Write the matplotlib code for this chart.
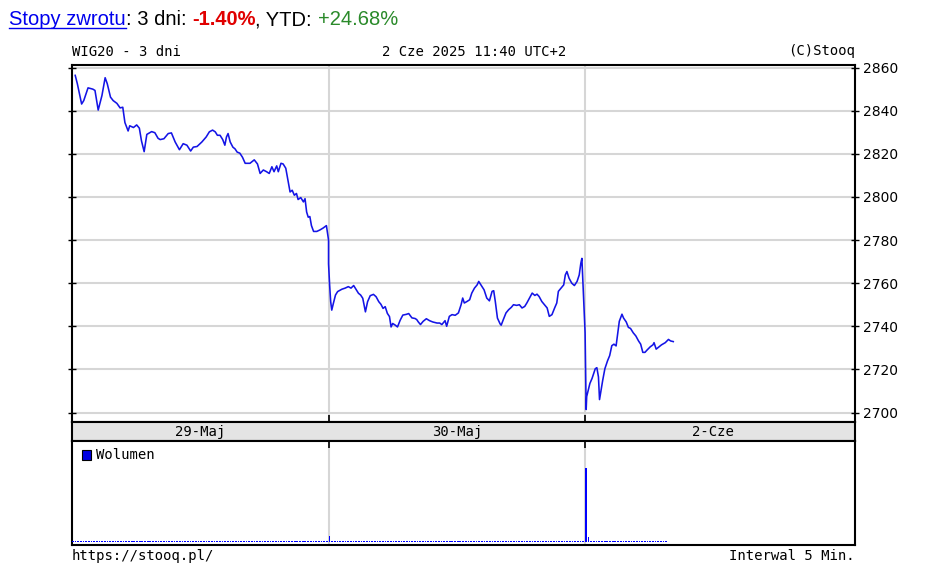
import matplotlib.pyplot as plt
from matplotlib.patches import Rectangle
from matplotlib.lines import Line2D
import numpy as np

# WIG20, 5-minute closes, minutes after 9:00 for each session
day1_min = [6, 10, 18, 22, 30, 39, 43, 49, 56, 62, 66, 72, 77, 84, 90, 95, 99, 105, 108, 115,
            121, 126, 130, 135, 140, 149, 155, 161, 165, 172, 180, 186, 193, 201, 208, 215, 222, 227, 234, 243,
            251, 257, 263, 268, 272, 277, 282, 286, 289, 292, 296, 301, 305, 309, 314, 319, 324, 333, 341, 347,
            352, 358, 364, 369, 374, 378, 383, 386, 391, 395, 400, 404, 408, 412, 416, 420, 423, 428, 433, 436,
            439, 442, 445, 448, 452, 458, 464, 470, 476, 480]
day1_val = [2856.4, 2852.5, 2843.1, 2844.7, 2850.6, 2850.0, 2849.4, 2840.3, 2847.0, 2855.3,
            2852.5, 2846.3, 2844.7, 2843.4, 2841.3, 2841.6, 2834.5, 2830.6, 2833.0, 2832.2,
            2833.4, 2831.9, 2826.0, 2821.0, 2829.0, 2830.3, 2829.8, 2827.2, 2826.6, 2827.0,
            2829.4, 2829.7, 2825.5, 2821.9, 2824.7, 2824.0, 2821.3, 2823.1, 2823.4, 2825.5,
            2827.8, 2830.2, 2831.0, 2830.2, 2828.6, 2828.6, 2826.6, 2824.0, 2827.8, 2829.4,
            2825.5, 2823.1, 2822.3, 2820.8, 2820.3, 2818.4, 2815.6, 2815.6, 2817.2, 2815.3,
            2810.9, 2812.5, 2811.7, 2810.9, 2814.0, 2811.7, 2814.4, 2811.7, 2815.6, 2815.3,
            2813.3, 2807.8, 2802.3, 2803.1, 2800.8, 2801.6, 2798.8, 2799.7, 2797.7, 2799.2,
            2793.0, 2790.6, 2790.9, 2786.7, 2784.0, 2784.0, 2784.7, 2785.6, 2786.7, 2780.0]

day2_min = [0, 2, 4, 6, 9, 13, 17, 25, 31, 37, 42, 47, 52, 56, 60, 64, 69, 73, 78, 84,
            89, 94, 98, 102, 106, 110, 114, 117, 120, 125, 129, 134, 139, 145, 150, 156, 162, 165, 168, 172,
            177, 183, 189, 195, 203, 208, 212, 218, 221, 226, 231, 237, 243, 248, 251, 254, 259, 264, 268, 273,
            278, 281, 287, 291, 296, 301, 306, 309, 312, 316, 321, 323, 327, 332, 337, 342, 346, 352, 357, 362,
            367, 371, 376, 381, 386, 390, 394, 399, 404, 409, 413, 418, 423, 427, 430, 435, 440, 443, 446, 450,
            455, 460, 465, 469, 472, 474]
day2_val = [2769.0, 2759.2, 2751.4, 2747.5, 2750.6, 2754.5, 2756.1, 2757.2, 2757.7, 2758.4,
            2757.7, 2758.9, 2756.9, 2755.3, 2754.5, 2753.0, 2746.7, 2751.4, 2754.2, 2754.8,
            2753.7, 2751.4, 2750.2, 2748.3, 2749.1, 2746.0, 2744.5, 2739.7, 2741.3, 2740.5,
            2739.7, 2742.8, 2745.2, 2745.5, 2745.9, 2743.9, 2743.6, 2743.1, 2742.0, 2740.8,
            2742.3, 2743.5, 2742.6, 2742.0, 2741.5, 2741.5, 2740.8, 2742.6, 2740.0, 2744.6,
            2745.4, 2745.1, 2746.2, 2750.0, 2753.1, 2750.8, 2751.5, 2752.3, 2755.4, 2757.7,
            2759.2, 2760.8, 2758.5, 2756.9, 2753.1, 2751.8, 2756.2, 2756.5, 2751.5, 2743.8,
            2741.1, 2740.5, 2743.1, 2746.2, 2747.7, 2748.8, 2750.0, 2749.7, 2750.0, 2748.5,
            2749.2, 2750.8, 2753.1, 2755.4, 2754.3, 2754.9, 2753.8, 2751.5, 2750.0, 2748.5,
            2744.6, 2745.4, 2748.5, 2750.8, 2756.2, 2757.7, 2759.2, 2763.8, 2765.4, 2762.3,
            2760.0, 2758.9, 2760.8, 2763.8, 2769.2, 2771.5]

day3_min = [0, 2, 3, 6, 9, 13, 16, 19, 22, 25, 27, 29, 33, 37, 42, 46, 50, 54, 58, 60,
            64, 69, 72, 77, 81, 85, 90, 95, 100, 104, 108, 112, 116, 122, 127, 129, 133, 137, 143, 150,
            156, 160, 165]
day3_val = [2737.0, 2701.4, 2707.4, 2710.5, 2713.5, 2715.8, 2718.0, 2720.3, 2720.8, 2716.5,
            2706.0, 2709.0, 2715.0, 2720.3, 2724.0, 2726.4, 2731.0, 2731.7, 2730.9, 2734.7,
            2742.3, 2745.6, 2743.8, 2742.0, 2739.5, 2739.0, 2737.0, 2735.5, 2733.2, 2731.7,
            2727.9, 2727.9, 2729.0, 2730.5, 2731.4, 2732.4, 2729.4, 2730.2, 2731.4, 2732.4,
            2733.9, 2733.2, 2732.9]

# volume per 5-minute bar (relative units)
vol_day1 = [1, 1, 1, 1, 1, 1, 1, 1, 1, 1, 1, 1, 1, 1, 1, 1, 1, 1, 1, 1, 1, 1, 1, 1,
            1, 1, 1, 1, 1, 1, 1, 1, 1, 1, 1, 1, 1, 1, 1, 1, 1, 1, 1, 1, 1, 1, 1, 1,
            1, 1, 1, 1, 1, 1, 1, 1, 1, 1, 1, 1, 1, 1, 1, 1, 1, 1, 1, 1, 1, 1, 1, 1,
            1, 1, 1, 1, 1, 1, 1, 1, 1, 1, 1, 1, 1, 1, 1, 1, 1, 1, 1, 1, 1, 1, 1, 1]
vol_day2 = [6, 1, 1, 1, 1, 1, 1, 1, 1, 1, 1, 1, 1, 1, 1, 1, 1, 1, 1, 1, 1, 1, 1, 1,
            1, 1, 1, 1, 1, 1, 1, 1, 1, 1, 1, 1, 1, 1, 1, 1, 1, 1, 1, 1, 1, 1, 1, 1,
            1, 1, 1, 1, 1, 1, 1, 1, 1, 1, 1, 1, 1, 1, 1, 1, 1, 1, 1, 1, 1, 1, 1, 1,
            1, 1, 1, 1, 1, 1, 1, 1, 1, 1, 1, 1, 1, 1, 1, 1, 1, 1, 1, 1, 1, 1, 1, 1]
vol_day3 = [74, 5, 1, 1, 1, 1, 1, 1, 1, 1, 1, 1, 1, 1, 1, 1,
            1, 1, 1, 1, 1, 1, 1, 1, 1, 1, 1, 1, 1, 1, 1]

price_ticks = [2700, 2720, 2740, 2760, 2780, 2800, 2820, 2840, 2860]
day_labels = ["29-Maj", "30-Maj", "2-Cze"]
DAY = 480  # minutes per session slot

W, H = 925, 565
MONO = "DejaVu Sans Mono"
SANS = "Liberation Sans"
GRID = "#d6d6d6"
BLUE = "#1414e6"


def box(x0, y0, x1, y1):
    return [x0 / W, 1 - y1 / H, (x1 - x0) / W, (y1 - y0) / H]


fig = plt.figure(figsize=(W / 100, H / 100), dpi=100)
ax = fig.add_axes(box(72, 65, 855, 422))
band = fig.add_axes(box(72, 422, 855, 441))
axv = fig.add_axes(box(72, 441, 855, 545))

xmax = 1465

# price panel
x = np.concatenate([np.array(day1_min), np.array(day2_min) + DAY, np.array(day3_min) + 2 * DAY])
y = np.concatenate([day1_val, day2_val, day3_val])
ax.plot(x, y, color=BLUE, lw=1.15, zorder=3)
ax.set_xlim(0, xmax)
ax.set_ylim(2695.6, 2861.2)
ax.set_yticks(price_ticks)
ax.grid(axis="y", color=GRID, lw=1.5)
for d in (DAY, 2 * DAY):
    ax.axvline(d, color=GRID, lw=1.5, zorder=1)
ax.set_xticks([DAY, 2 * DAY])
ax.tick_params(axis="x", direction="in", length=5, width=1.2, labelbottom=False)
ax.tick_params(axis="y", left=True, right=True, labelleft=False, labelright=True,
               direction="inout", length=6, width=1, labelsize=10, pad=3)

# date band
band.set_facecolor("#e4e4e4")
band.set_xlim(0, xmax)
band.set_ylim(0, 1)
band.set_xticks([])
band.set_yticks([])
for i, lab in enumerate(day_labels):
    band.text(i * DAY + DAY / 2, 0.45, lab, ha="center", va="center", family=MONO, fontsize=10)

# volume panel
for i, v in enumerate([vol_day1, vol_day2, vol_day3]):
    xs = i * DAY + 5 * np.arange(len(v))
    axv.bar(xs, v, width=3.2, color="#0000ff", linewidth=0, align="edge", zorder=3,
            antialiased=False)
axv.set_xlim(0, xmax)
axv.set_ylim(-2.8, 101)
for d in (DAY, 2 * DAY):
    axv.axvline(d, color=GRID, lw=1.5, zorder=1)
axv.set_xticks([DAY, 2 * DAY])
axv.tick_params(axis="x", direction="in", length=5, width=1.2, bottom=False, top=True,
                labelbottom=False)
axv.set_yticks([])
axv.add_patch(Rectangle((10 / 783, 0.817), 9 / 783, 0.096, transform=axv.transAxes,
                        facecolor="#0000e0", edgecolor="black", lw=0.8, clip_on=False))
axv.text(24 / 783, 0.865, "Wolumen", transform=axv.transAxes, va="center",
         family=MONO, fontsize=10)

for a in (ax, band, axv):
    for s in a.spines.values():
        s.set_linewidth(1.5)
        s.set_color("black")

# header and footer
hy = 1 - 51.5 / H
fig.text(72 / W, hy, "WIG20 - 3 dni", va="center", family=MONO, fontsize=10)
fig.text(474 / W, hy, "2 Cze 2025 11:40 UTC+2", ha="center", va="center", family=MONO, fontsize=10)
fig.text(855 / W, hy, "(C)Stooq", ha="right", va="center", family=MONO, fontsize=10)
fy = 1 - 556 / H
fig.text(72 / W, fy, "https://stooq.pl/", va="center", family=MONO, fontsize=10)
fig.text(855 / W, fy, "Interwal 5 Min.", ha="right", va="center", family=MONO, fontsize=10)

# returns line at the top, all pieces on one baseline
pieces = [("Stopy zwrotu", "#0000ee", "normal"), (": 3 dni: ", "black", "normal"),
          ("-1.40%", "#e00000", "bold"), (", YTD: ", "black", "normal"),
          ("+24.68%", "#2a8a2a", "normal")]
base_y = 1 - 25 / H
fig.canvas.draw()
renderer = fig.canvas.get_renderer()
xpix = 9.0
texts = []
for txt, col, wt in pieces:
    t = fig.text(xpix / W, base_y, txt, color=col, fontweight=wt, family=SANS,
                 fontsize=14.5, va="baseline", ha="left")
    ext = t.get_window_extent(renderer)
    texts.append(t)
    xpix += ext.width

bb = texts[0].get_window_extent(renderer)
uy = base_y - 2.5 / H
fig.add_artist(Line2D([bb.x0 / W, bb.x1 / W], [uy, uy], color="#0000ee", lw=1.0,
                      transform=fig.transFigure))

fig.savefig("out.png", dpi=100)
